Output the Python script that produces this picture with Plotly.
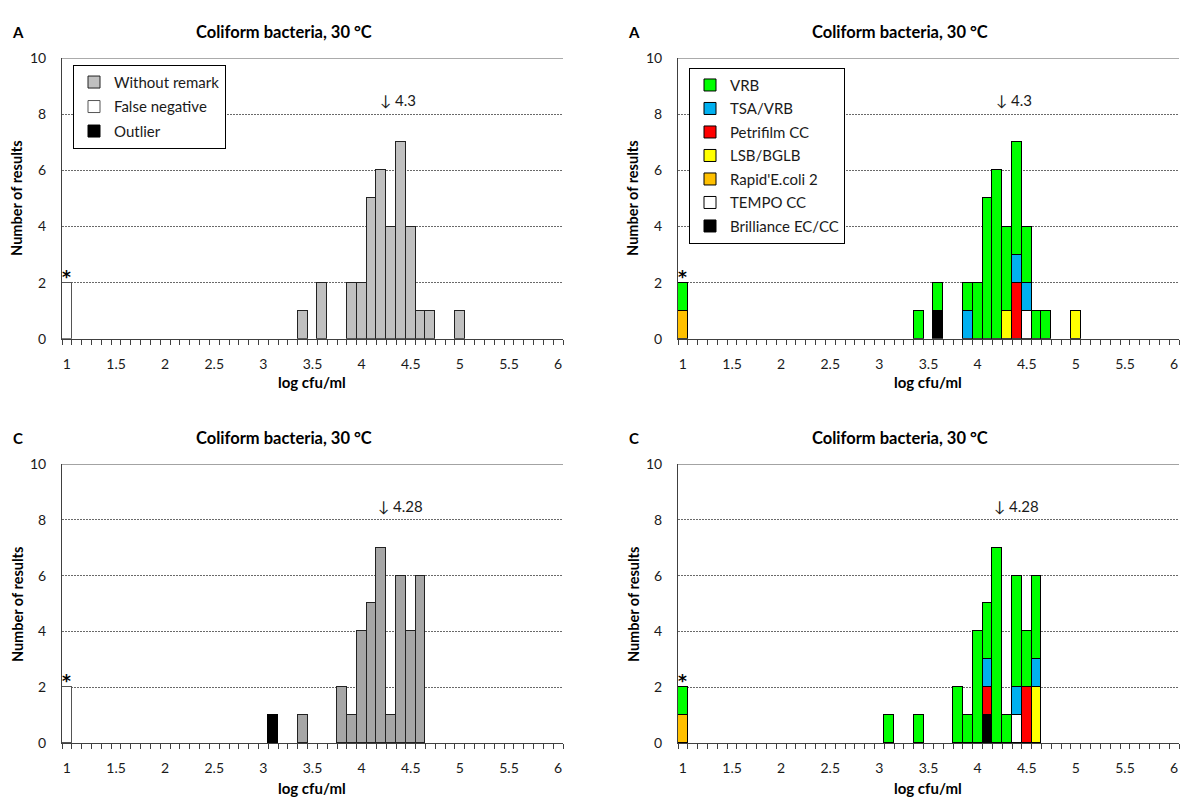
import plotly.graph_objects as go

# ---------------- data ----------------
# Panel A (top): categories (log cfu/ml bins, width 0.1)
a_bins = [1.0, 3.4, 3.6, 3.9, 4.0, 4.1, 4.2, 4.3, 4.4, 4.5, 4.6, 4.7, 5.0]
a_without_remark = [0, 1, 2, 2, 2, 5, 6, 4, 7, 4, 1, 1, 1]
a_false_negative = [2, 0, 0, 0, 0, 0, 0, 0, 0, 0, 0, 0, 0]
a_outlier        = [0, 0, 0, 0, 0, 0, 0, 0, 0, 0, 0, 0, 0]
a_vrb        = [1, 1, 1, 1, 2, 5, 6, 3, 4, 2, 1, 1, 0]
a_tsa_vrb    = [0, 0, 0, 1, 0, 0, 0, 0, 1, 1, 0, 0, 0]
a_petrifilm  = [0, 0, 0, 0, 0, 0, 0, 0, 2, 0, 0, 0, 0]
a_lsb_bglb   = [0, 0, 0, 0, 0, 0, 0, 1, 0, 0, 0, 0, 1]
a_rapid      = [1, 0, 0, 0, 0, 0, 0, 0, 0, 0, 0, 0, 0]
a_tempo      = [0, 0, 0, 0, 0, 0, 0, 0, 0, 1, 0, 0, 0]
a_brilliance = [0, 0, 1, 0, 0, 0, 0, 0, 0, 0, 0, 0, 0]
a_assigned = 4.3
a_assigned_text = "4.3"

# Panel C (bottom)
c_bins = [1.0, 3.1, 3.4, 3.8, 3.9, 4.0, 4.1, 4.2, 4.3, 4.4, 4.5, 4.6]
c_without_remark = [0, 0, 1, 2, 1, 4, 5, 7, 1, 6, 4, 6]
c_false_negative = [2, 0, 0, 0, 0, 0, 0, 0, 0, 0, 0, 0]
c_outlier        = [0, 1, 0, 0, 0, 0, 0, 0, 0, 0, 0, 0]
c_vrb        = [1, 1, 1, 2, 1, 4, 2, 7, 1, 4, 2, 3]
c_tsa_vrb    = [0, 0, 0, 0, 0, 0, 1, 0, 0, 1, 0, 1]
c_petrifilm  = [0, 0, 0, 0, 0, 0, 1, 0, 0, 0, 2, 0]
c_lsb_bglb   = [0, 0, 0, 0, 0, 0, 0, 0, 0, 0, 0, 2]
c_rapid      = [1, 0, 0, 0, 0, 0, 0, 0, 0, 0, 0, 0]
c_tempo      = [0, 0, 0, 0, 0, 0, 0, 0, 0, 1, 0, 0]
c_brilliance = [0, 0, 0, 0, 0, 0, 1, 0, 0, 0, 0, 0]
c_assigned = 4.28
c_assigned_text = "4.28"

x_tick_labels = [1, 1.5, 2, 2.5, 3, 3.5, 4, 4.5, 5, 5.5, 6]
y_tick_labels = [0, 2, 4, 6, 8, 10]
bin_width = 0.1
x_min_bin, x_max_bin = 1.0, 6.0

title_text = "Coliform bacteria, 30 °C"
x_title = "log cfu/ml"
y_title = "Number of results"

# ---------------- layout helpers ----------------
W, H = 1182, 803
FONT = "Lato, 'Liberation Sans', Arial, sans-serif"
TXT = "#1a1a1a"


def px(x):
    return x / W


def py(y):
    return 1 - y / H


x_dom = {"L": [px(62), px(563)], "R": [px(678), px(1179)]}
y_dom = {"T": [py(337), py(50)], "B": [py(750), py(465)]}
panels = {1: ("L", "T"), 2: ("R", "T"), 3: ("L", "B"), 4: ("R", "B")}
x_off = {"L": 0, "R": 616}
y_base = {"T": 0, "B": 415}

fig = go.Figure()


def nz(bins, vals):
    xs = [b for b, v in zip(bins, vals) if v]
    ys = [v for v in vals if v]
    return xs, ys


def add_bar(panel, bins, vals, name, color, legend=None, group=None,
            line_color="#000000", rank=1000):
    xs, ys = nz(bins, vals)
    ax = "" if panel == 1 else str(panel)
    fig.add_trace(go.Bar(
        x=xs if xs else [None], y=ys if ys else [None], width=bin_width, name=name,
        marker=dict(color=color, line=dict(color=line_color, width=1)),
        xaxis="x" + ax, yaxis="y" + ax,
        showlegend=legend is not None, legend=legend or "legend",
        legendgroup=group, legendrank=rank, hoverinfo="skip",
    ))


# left panels (remarks)
add_bar(1, a_bins, a_without_remark, "Without remark", "#C0C0C0", "legend", "g1", "#222222", 1)
add_bar(1, a_bins, a_false_negative, "False negative", "#FFFFFF", "legend", "g2", "#555555", 2)
add_bar(1, a_bins, a_outlier, "Outlier", "#000000", "legend", "g3", "#000000", 3)
add_bar(3, c_bins, c_without_remark, "Without remark", "#A6A6A6", None, None, "#222222")
add_bar(3, c_bins, c_false_negative, "False negative", "#FFFFFF", None, None, "#555555")
add_bar(3, c_bins, c_outlier, "Outlier", "#000000")

# right panels (methods), stacked bottom -> top
methods = [
    ("Brilliance EC/CC", "#000000", a_brilliance, c_brilliance),
    ("TEMPO CC", "#FFFFFF", a_tempo, c_tempo),
    ("Rapid'E.coli 2", "#FFC000", a_rapid, c_rapid),
    ("LSB/BGLB", "#FFFF00", a_lsb_bglb, c_lsb_bglb),
    ("Petrifilm CC", "#FF0000", a_petrifilm, c_petrifilm),
    ("TSA/VRB", "#00B0F0", a_tsa_vrb, c_tsa_vrb),
    ("VRB", "#00FF00", a_vrb, c_vrb),
]
for i, (name, col, av, cv) in enumerate(methods):
    add_bar(2, a_bins, av, name, col, "legend2", "m%d" % i, "#000000", len(methods) - i)
    add_bar(4, c_bins, cv, name, col)

# ---------------- axes ----------------
x_range = [x_min_bin - bin_width / 2, x_max_bin + bin_width / 2]
n_bins = int(round((x_max_bin - x_min_bin) / bin_width)) + 1
boundaries = [x_range[0] + k * bin_width for k in range(n_bins + 1)]

layout_axes = {}
for p, (xd, yd) in panels.items():
    s = "" if p == 1 else str(p)
    layout_axes["xaxis" + s] = dict(
        domain=x_dom[xd], range=x_range, anchor="y" + s,
        tickvals=x_tick_labels, ticktext=[str(v) for v in x_tick_labels],
        ticks="", ticklabelstandoff=12, showgrid=False, zeroline=False,
        showline=True, linecolor="#404040", linewidth=1,
        tickfont=dict(family=FONT, size=14, color=TXT),
        minor=dict(tickvals=boundaries, ticks="outside", ticklen=5,
                   tickcolor="#404040", tickwidth=1, showgrid=False),
        fixedrange=True,
    )
    layout_axes["yaxis" + s] = dict(
        domain=y_dom[yd], range=[0, 10], anchor="x" + s,
        tickvals=y_tick_labels, ticks="", ticklabelstandoff=12,
        showgrid=True, gridcolor="#6a6a6a", gridwidth=1, griddash="2px,1px",
        zeroline=False, showline=True, linecolor="#404040", linewidth=1,
        tickfont=dict(family=FONT, size=14, color=TXT), fixedrange=True,
    )

fig.update_layout(**layout_axes)

# ---------------- texts ----------------
ann = []
shapes = []
for p, (xd, yd) in panels.items():
    s = "" if p == 1 else str(p)
    dx = x_off[xd]
    dy = y_base[yd]
    letter = "A" if yd == "T" else "C"
    ann.append(dict(text="<b>%s</b>" % letter, x=px(18 + dx), y=py(23 + dy), xref="paper", yref="paper",
                    showarrow=False, xanchor="center", yanchor="middle",
                    font=dict(family=FONT, size=15, color="#000")))
    ann.append(dict(text="<b>%s</b>" % title_text, x=px(284 + dx), y=py(23 + dy), xref="paper", yref="paper",
                    showarrow=False, xanchor="center", yanchor="middle",
                    font=dict(family=FONT, size=16.5, color="#000")))
    ann.append(dict(text="<b>%s</b>" % x_title, x=px(312 + dx), y=py(381 + dy), xref="paper", yref="paper",
                    showarrow=False, xanchor="center", yanchor="middle",
                    font=dict(family=FONT, size=15, color="#000")))
    ann.append(dict(text="<b>%s</b>" % y_title, x=px(17 + dx), y=py(194 + dy), xref="paper", yref="paper",
                    showarrow=False, xanchor="center", yanchor="middle", textangle=-90,
                    font=dict(family=FONT, size=14.5, color="#000")))
    assigned_txt = a_assigned_text if yd == "T" else c_assigned_text
    assigned_val = a_assigned if yd == "T" else c_assigned
    ann.append(dict(text="\u2193 " + assigned_txt, x=assigned_val - 0.13, y=8.5,
                    xref="x" + s, yref="y" + s, showarrow=False,
                    xanchor="left", yanchor="middle",
                    font=dict(family=FONT, size=15, color=TXT)))
    ann.append(dict(text="<b>*</b>", x=x_min_bin, y=2, xref="x" + s, yref="y" + s,
                    showarrow=False, xanchor="center", yanchor="bottom", yshift=-6,
                    font=dict(family="'DejaVu Sans', sans-serif", size=17, color="#000")))
    shapes.append(dict(type="line", xref="x%s domain" % s, yref="y" + s, x0=0, x1=1, y0=10, y1=10,
                       line=dict(color="#404040", width=1)))

fig.update_layout(
    width=W, height=H, margin=dict(l=0, r=0, t=0, b=0),
    paper_bgcolor="white", plot_bgcolor="white",
    barmode="stack", bargap=0,
    annotations=ann, shapes=shapes,
    font=dict(family=FONT, color=TXT),
    legend=dict(x=px(73), y=py(57), xanchor="left", yanchor="top",
                bordercolor="#000", borderwidth=1, bgcolor="white",
                traceorder="grouped", tracegroupgap=2,
                font=dict(family=FONT, size=15, color=TXT),
                itemclick=False, itemdoubleclick=False),
    legend2=dict(x=px(689), y=py(60), xanchor="left", yanchor="top",
                 bordercolor="#000", borderwidth=1, bgcolor="white",
                 traceorder="grouped", tracegroupgap=1,
                 font=dict(family=FONT, size=15, color=TXT),
                 itemclick=False, itemdoubleclick=False),
)

fig.write_html("out.html", config={"displayModeBar": False},
               post_script="document.body.style.margin='0';document.body.style.padding='0';")
